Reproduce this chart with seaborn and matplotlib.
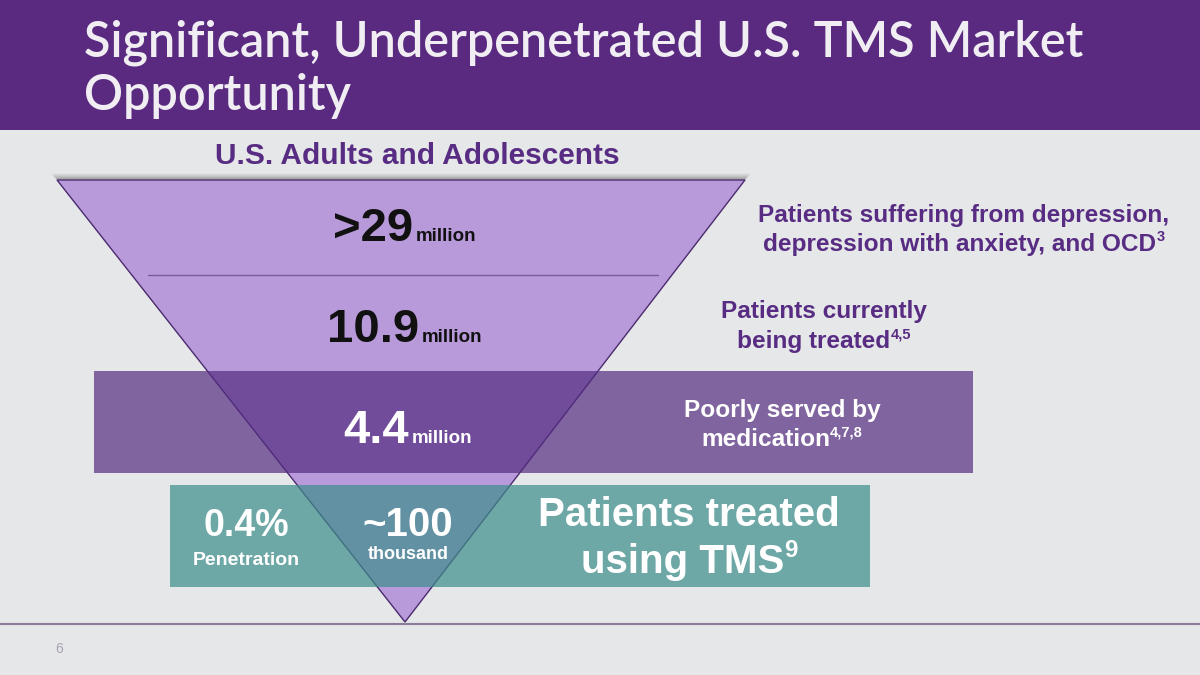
import matplotlib
matplotlib.use("Agg")
import matplotlib.pyplot as plt
from matplotlib import font_manager
import seaborn as sns
from matplotlib.patches import Polygon, Rectangle

# ---------------- data ----------------
title_lines = ["Significant, Underpenetrated U.S. TMS Market", "Opportunity"]
subtitle = "U.S. Adults and Adolescents"
level_values = [">29", "10.9", "4.4", "~100"]
level_units = ["million", "million", "million", "thousand"]
desc_main = [["Patients suffering from depression,", "depression with anxiety, and OCD"],
             ["Patients currently", "being treated"],
             ["Poorly served by", "medication"],
             ["Patients treated", "using TMS"]]
desc_refs = ["3", "4,5", "4,7,8", "9"]
penetration_value = "0.4%"
penetration_label = "Penetration"
page_number = "6"

# ---------------- style ----------------
sns.set_theme(style="white")
names = {f.name for f in font_manager.fontManager.ttflist}
NARROW = "Liberation Sans Narrow" if "Liberation Sans Narrow" in names else "Liberation Sans"
ARIAL = "Liberation Sans"
TITLEF = "Lato" if "Lato" in names else "DejaVu Sans"
plt.rcParams["font.family"] = [ARIAL, "DejaVu Sans"]

BG = "#e6e7e8"
BANNER = "#592a80"
PURPLE_TXT = "#582c83"
TRI = "#b89adb"

fig = plt.figure(figsize=(12, 6.75), dpi=100, facecolor=BG)
ax = fig.add_axes([0, 0, 1, 1])
ax.set_xlim(0, 1200)
ax.set_ylim(675, 0)
ax.axis("off")
ax.set_facecolor(BG)
renderer = fig.canvas.get_renderer()


def runs_text(runs, x, y, ha="center", color="k", family=None):
    """runs: list of (text, size, dy, weight). y is baseline in px."""
    fam = family or [ARIAL, "DejaVu Sans"]
    objs = []
    for t, s, dy, w in runs:
        o = ax.text(0, y + dy, t, fontsize=s, color=color, fontweight=w,
                    family=fam, va="baseline", ha="left")
        objs.append(o)
    widths = [o.get_window_extent(renderer).width for o in objs]
    total = sum(widths)
    x0 = x - total / 2 if ha == "center" else x
    for o, wd in zip(objs, widths):
        o.set_x(x0)
        x0 += wd
    return objs


# banner
ax.add_patch(Rectangle((0, 0), 1200, 130, facecolor=BANNER, edgecolor="none", zorder=1))
for i, line in enumerate(title_lines):
    ax.text(84, 57 + i * 53, line, fontsize=35, color="#f1eef3", family=[TITLEF, "DejaVu Sans"],
            fontweight="semibold", va="baseline", ha="left", zorder=2)

# subtitle
ax.text(417, 164, subtitle, fontsize=21.5, color=PURPLE_TXT, fontweight="bold",
        ha="center", va="baseline", zorder=3)

# triangle shadow (soft)
for k, a in enumerate([0.04, 0.07, 0.11, 0.16, 0.22, 0.28]):
    ax.plot([52 + k, 750 - k], [173.5 + k, 173.5 + k], color="#3a3a3a", lw=1.2,
            alpha=a, solid_capstyle="round", zorder=2)

# funnel triangle
tri = Polygon([(57, 180), (745, 180), (405, 622)], closed=True, facecolor=TRI,
              edgecolor="#4b2a6e", lw=1.0, zorder=3)
ax.add_patch(tri)
ax.plot([148, 658], [275, 275], color="#7a5b9c", lw=1.0, zorder=4)

# bands
ax.add_patch(Rectangle((94, 371), 879, 102, facecolor="#542c81", alpha=0.7,
                       edgecolor="none", zorder=5))
ax.add_patch(Rectangle((170, 485), 700, 102, facecolor="#3c8e8a", alpha=0.7,
                       edgecolor="none", zorder=5))

# bottom rule and page number
ax.plot([0, 1200], [624, 624], color="#8a7d9c", lw=1.5, zorder=2)
ax.text(55, 653, page_number, fontsize=10, color="#a8a2b6", ha="left", va="baseline")

# level numbers
num_y = [241, 342, 443]
num_x = [405, 405, 408]
num_col = ["#111111", "#111111", "white"]
for v, u, y, x, c in zip(level_values[:3], level_units[:3], num_y, num_x, num_col):
    objs = runs_text([(v, 34, 0, "bold"), (" ", 7, 0, "bold"), (u, 13.5, 0, "bold")], x, y,
                     color=c, family=[NARROW, ARIAL])
    for o in objs:
        o.set_zorder(7)

# teal band texts
for o in runs_text([(level_values[3], 29, 0, "bold")], 408, 536, color="white", family=[NARROW, ARIAL]):
    o.set_zorder(7)
for o in runs_text([(level_units[3], 13, 0, "bold")], 408, 559, color="white", family=[NARROW, ARIAL]):
    o.set_zorder(7)
for o in runs_text([(penetration_value, 27, 0, "bold")], 246, 536, color="white", family=[NARROW, ARIAL]):
    o.set_zorder(7)
for o in runs_text([(penetration_label, 14, 0, "bold")], 246, 565, color="white", family=[NARROW, ARIAL]):
    o.set_zorder(7)

# descriptions
desc_pos = [(964, 222, 29, 17.6, PURPLE_TXT), (824, 318, 30, 17.6, PURPLE_TXT),
            (782, 417, 29, 17.6, "white"), (689, 526, 47, 29, "white")]
for (lines, ref), (cx, y0, dy, fs, col) in zip(zip(desc_main, desc_refs), desc_pos):
    for o in runs_text([(lines[0], fs, 0, "bold")], cx, y0, color=col):
        o.set_zorder(7)
    objs = runs_text([(lines[1], fs, 0, "bold"), (ref, fs * 0.6, -fs * 0.55, "bold")],
                     cx, y0 + dy, color=col)
    for o in objs:
        o.set_zorder(7)

fig.savefig("out.png", dpi=100, facecolor=BG)
